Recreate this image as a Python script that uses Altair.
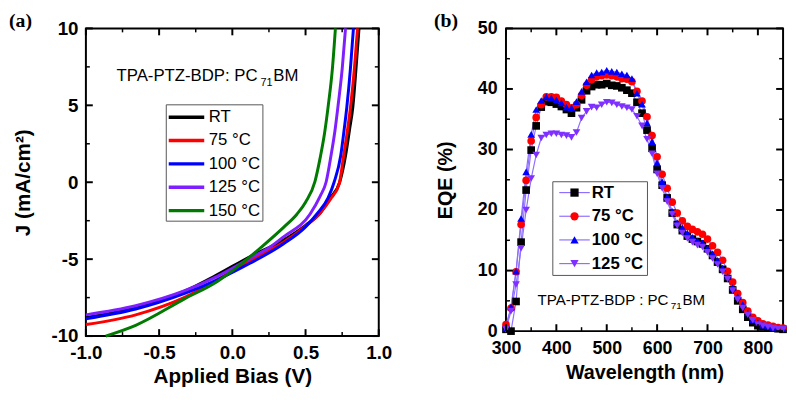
import altair as alt
import pandas as pd

FONT = "Liberation Sans"

# ---------------- Panel (a): J-V curves ----------------
series_a = ["RT", "75 °C", "100 °C", "125 °C", "150 °C"]
colors_a = ["#000000", "#ff0000", "#0000ff", "#7f1fff", "#007a00"]

v_rt = [-1.0, -0.66, -0.33, -0.12, 0.12, 0.35, 0.5, 0.6, 0.67, 0.733, 0.773, 0.8, 0.823, 0.845, 0.865]
j_rt = [-8.8, -8.15, -7.1, -6.1, -4.84, -3.75, -2.8, -2.0, -1.0, 0.0, 1.72, 3.4, 4.9, 7.45, 10.0]
v_75 = [-1.0, -0.66, -0.33, -0.06, 0.12, 0.35, 0.5, 0.6, 0.67, 0.73, 0.76, 0.785, 0.807, 0.834, 0.855]
j_75 = [-9.25, -8.62, -7.5, -6.1, -5.1, -3.9, -2.85, -2.0, -1.1, -0.1, 1.72, 3.3, 4.9, 7.45, 10.0]
v_100 = [-1.0, -0.66, -0.33, -0.1, 0.12, 0.35, 0.5, 0.576, 0.654, 0.695, 0.74, 0.762, 0.782, 0.807, 0.827]
j_100 = [-8.87, -8.24, -7.24, -6.33, -5.27, -4.0, -2.9, -2.08, -1.02, 0.0, 1.72, 3.3, 4.9, 7.45, 10.0]
v_125 = [-1.0, -0.66, -0.33, -0.1, 0.12, 0.26, 0.35, 0.53, 0.6, 0.64, 0.675, 0.7, 0.721, 0.751, 0.773]
j_125 = [-8.62, -8.03, -7.07, -6.1, -4.95, -4.2, -3.55, -2.08, -0.9, 0.0, 1.8, 3.3, 4.9, 7.45, 10.0]
v_150 = [-0.865, -0.66, -0.33, -0.1, 0.12, 0.194, 0.35, 0.441, 0.5, 0.564, 0.6, 0.63, 0.654, 0.684, 0.704]
j_150 = [-10.0, -9.3, -7.6, -6.43, -4.85, -4.25, -2.93, -2.08, -1.3, 0.04, 1.6, 3.2, 4.9, 7.45, 10.0]

xa_major = [-1.0, -0.5, 0.0, 0.5, 1.0]
xa_minor = [-0.75, -0.25, 0.25, 0.75]
ya_major = [-10, -5, 0, 5, 10]
ya_minor = [-7.5, -2.5, 2.5, 7.5]
ann_a = ["TPA-PTZ-BDP: PC", "71", "BM"]

# ---------------- Panel (b): EQE spectra ----------------
series_b = ["RT", "75 °C", "100 °C", "125 °C"]
colors_b = ["#000000", "#ff0000", "#0000ff", "#7f2fff"]
shapes_b = ["square", "circle", "triangle-up", "triangle-down"]
wavelength = [300, 310, 320, 330, 340, 350, 360, 370, 380, 390,
              400, 410, 420, 430, 440, 450, 460, 470, 480, 490,
              500, 510, 520, 530, 540, 550, 560, 570, 580, 590,
              600, 610, 620, 630, 640, 650, 660, 670, 680, 690,
              700, 710, 720, 730, 740, 750, 760, 770, 780, 790,
              800, 810, 820, 830, 840, 850]
eqe_rt = [0.3, 0.0, 4.9, 14.7, 23.3, 29.9, 33.9, 37.0, 37.9, 37.8,
          37.5, 37.1, 36.6, 36.0, 36.9, 38.2, 39.7, 40.4, 40.7, 40.7,
          40.9, 40.6, 40.5, 40.2, 39.8, 39.3, 37.8, 36.0, 33.2, 30.2,
          26.7, 24.1, 22.0, 19.5, 17.6, 16.6, 15.7, 15.2, 14.8, 14.4,
          13.6, 12.5, 11.4, 10.2, 8.7, 6.8, 5.0, 3.6, 2.3, 1.4,
          0.9, 0.7, 0.6, 0.5, 0.4, 0.3]
eqe_75 = [1.1, 3.8, 9.8, 17.6, 24.9, 31.4, 35.3, 37.4, 38.7, 38.7,
          38.6, 38.0, 37.4, 36.9, 37.4, 38.9, 40.6, 41.5, 42.0, 42.2,
          42.3, 42.2, 42.0, 41.7, 41.6, 41.2, 39.6, 38.0, 35.4, 32.3,
          28.8, 25.9, 23.6, 21.3, 19.5, 18.2, 17.3, 16.8, 16.4, 16.0,
          15.2, 14.1, 13.0, 11.7, 9.9, 8.1, 6.2, 4.7, 3.3, 2.3,
          1.7, 1.2, 1.0, 0.8, 0.6, 0.5]
eqe_100 = [0.5, 4.0, 9.9, 18.6, 26.3, 32.5, 36.6, 38.1, 38.7, 38.5,
           38.2, 37.7, 37.0, 36.9, 37.9, 39.6, 41.2, 42.3, 42.7, 42.8,
           43.1, 42.9, 42.8, 42.5, 42.3, 41.7, 39.3, 37.5, 34.4, 31.3,
           27.8, 24.7, 22.2, 19.8, 17.9, 17.1, 16.2, 15.5, 14.9, 14.6,
           13.7, 12.8, 11.7, 10.4, 9.0, 7.2, 5.7, 4.4, 3.0, 1.9,
           1.4, 1.0, 0.8, 0.6, 0.5, 0.4]
eqe_125 = [0.3, 3.3, 7.7, 13.7, 20.0, 25.2, 29.1, 31.9, 32.4, 32.6,
           32.6, 32.4, 32.3, 32.0, 32.8, 35.2, 36.3, 37.0, 36.9, 37.4,
           37.8, 37.7, 37.4, 37.1, 36.9, 36.6, 35.5, 33.9, 31.7, 29.3,
           26.0, 23.6, 21.4, 19.3, 17.4, 16.2, 15.3, 14.7, 14.2, 13.9,
           13.0, 12.0, 11.0, 9.8, 8.6, 6.7, 5.2, 3.8, 2.7, 1.8,
           1.1, 0.9, 0.7, 0.5, 0.4, 0.3]
xb_major = [300, 400, 500, 600, 700, 800]
xb_minor = [350, 450, 550, 650, 750]
yb_major = [0, 10, 20, 30, 40, 50]
yb_minor = [5, 15, 25, 35, 45]
ann_b = ["TPA-PTZ-BDP : PC", "71", "BM"]

LINE_B = "#8f6fff"
ZWSP = "\u200b"

# ---------------- build tables ----------------
rows = []
for name, vs, js in zip(series_a, [v_rt, v_75, v_100, v_125, v_150],
                        [j_rt, j_75, j_100, j_125, j_150]):
    for v, j in zip(vs, js):
        rows.append({"sample": name, "V": v, "J": j})
df_a = pd.DataFrame(rows)

rows = []
for name, vals in zip(series_b, [eqe_rt, eqe_75, eqe_100, eqe_125]):
    for w, e in zip(wavelength, vals):
        rows.append({"anneal": name, "lkey": name + ZWSP, "wl": w, "eqe": e})
df_b = pd.DataFrame(rows)


def tick_layers(xmaj, xmin, ymaj, ymin, xs, ys, W, H, xf, yf):
    out = []
    for vals, L, sw in ((xmaj, 7, 2), (xmin, 4, 1.5)):
        d = pd.DataFrame({xf: vals})
        out.append(alt.Chart(d).mark_rule(color="black", strokeWidth=sw).encode(
            x=alt.X(f"{xf}:Q", scale=xs), y=alt.value(H), y2=alt.value(H - L)))
        out.append(alt.Chart(d).mark_rule(color="black", strokeWidth=sw).encode(
            x=alt.X(f"{xf}:Q", scale=xs), y=alt.value(0), y2=alt.value(L)))
    for vals, L, sw in ((ymaj, 7, 2), (ymin, 4, 1.5)):
        d = pd.DataFrame({yf: vals})
        out.append(alt.Chart(d).mark_rule(color="black", strokeWidth=sw).encode(
            y=alt.Y(f"{yf}:Q", scale=ys), x=alt.value(0), x2=alt.value(L)))
        out.append(alt.Chart(d).mark_rule(color="black", strokeWidth=sw).encode(
            y=alt.Y(f"{yf}:Q", scale=ys), x=alt.value(W - L), x2=alt.value(W)))
    return out


def text_layer(txt, x, y, size, weight="normal", font=FONT, baseline="alphabetic"):
    return alt.Chart(pd.DataFrame({"t": [txt]})).mark_text(
        align="left", baseline=baseline, font=font, fontSize=size,
        fontWeight=weight, color="black").encode(text="t:N", x=alt.value(x), y=alt.value(y))


def axis(title, values, lsize, tsize, lpad, tpad, expr=None):
    kw = dict(title=title, values=values, ticks=False, domain=False, grid=False,
              labelFont=FONT, labelFontSize=lsize, labelFontWeight="bold",
              labelColor="black", labelPadding=lpad, labelFlush=False, labelOverlap=False,
              titleFont=FONT, titleFontSize=tsize, titleFontWeight="bold",
              titleColor="black", titlePadding=tpad)
    if expr:
        kw["labelExpr"] = expr
    return alt.Axis(**kw)


# ---------------- panel (a) ----------------
WA, HA = 297, 312
xa = alt.Scale(domain=[-1, 1], nice=False, zero=False)
ya = alt.Scale(domain=[-10, 10], nice=False, zero=False)
ex1 = "datum.value < 0 ? '-' + format(-datum.value, '.1f') : format(datum.value, '.1f')"
ex0 = "datum.value < 0 ? '-' + format(-datum.value, 'd') : format(datum.value, 'd')"

lines_a = alt.Chart(df_a).mark_line(strokeWidth=3, interpolate="monotone").encode(
    x=alt.X("V:Q", scale=xa, axis=axis("Applied Bias (V)", xa_major, 19, 21, 8, 3, ex1)),
    y=alt.Y("J:Q", scale=ya, axis=axis("J (mA/cm²)", ya_major, 19, 21, 8, 18, ex0)),
    color=alt.Color("sample:N", scale=alt.Scale(domain=series_a, range=colors_a),
                    legend=alt.Legend(orient="none", legendX=81, legendY=77, title=None,
                                      symbolType="M-2,0H2", symbolSize=324,
                                      symbolStrokeWidth=3.5, symbolOffset=8,
                                      labelOffset=11.5, labelFont=FONT, labelFontSize=17,
                                      labelFontWeight="normal",
                                      labelColor="black", padding=2, rowPadding=4.7,
                                      strokeColor="#555555")),
)

panel_a = alt.layer(
    lines_a,
    *tick_layers(xa_major, xa_minor, ya_major, ya_minor, xa, ya, WA, HA, "V", "J"),
    text_layer(ann_a[0], 31, 53, 17),
    text_layer(ann_a[1], 177, 58, 11),
    text_layer(ann_a[2], 190, 53, 17),
    text_layer("(a)", -78, -17, 20, "bold", "Liberation Serif", "top"),
).properties(width=WA, height=HA)

# ---------------- panel (b) ----------------
WB, HB = 281, 307
xb = alt.Scale(domain=[300, 850], nice=False, zero=False)
yb = alt.Scale(domain=[0, 50], nice=False, zero=False)


def legend_b(label_color, **extra):
    return alt.Legend(orient="none", legendX=47, legendY=155, title=None,
                      symbolSize=70, symbolOffset=11, labelOffset=9,
                      labelFont=FONT, labelFontSize=17, labelFontWeight="bold",
                      labelColor=label_color, padding=3, rowPadding=6, **extra)


lines_b = alt.Chart(df_b).mark_line(strokeWidth=1.2).encode(
    x=alt.X("wl:Q", scale=xb, axis=axis("Wavelength (nm)", xb_major, 18, 20, 9, 5)),
    y=alt.Y("eqe:Q", scale=yb, axis=axis("EQE (%)", yb_major, 18, 20, 9, 22)),
    stroke=alt.Stroke("lkey:N", scale=alt.Scale(domain=[s + ZWSP for s in series_b],
                                                  range=[LINE_B] * 4),
                      legend=legend_b("transparent", symbolType="M-3.7,0H3.7",
                                      symbolStrokeWidth=1.2)),
)

pts_legend = legend_b("black", symbolStrokeWidth=0, symbolOpacity=1, strokeColor="#555555")
points_b = alt.Chart(df_b).mark_point(filled=True, opacity=1, size=60).encode(
    x=alt.X("wl:Q", scale=xb),
    y=alt.Y("eqe:Q", scale=yb),
    color=alt.Color("anneal:N", scale=alt.Scale(domain=series_b, range=colors_b),
                    legend=pts_legend),
    shape=alt.Shape("anneal:N", scale=alt.Scale(domain=series_b, range=shapes_b),
                    legend=pts_legend),
)

panel_b = alt.layer(
    lines_b,
    points_b,
    *tick_layers(xb_major, xb_minor, yb_major, yb_minor, xb, yb, WB, HB, "wl", "eqe"),
    text_layer(ann_b[0], 32, 281, 15.3),
    text_layer(ann_b[1], 167, 285, 10),
    text_layer(ann_b[2], 179, 281, 15.3),
    text_layer("(b)", -73, -17, 20, "bold", "Liberation Serif", "top"),
).properties(width=WB, height=HB)

chart = alt.hconcat(panel_a, panel_b, spacing=40).resolve_scale(
    color="independent", stroke="independent", shape="independent"
).resolve_legend(
    color="independent", stroke="independent", shape="independent"
).properties(padding=0).configure_view(stroke="black", strokeWidth=2)

chart.save("out.html", embed_options={"renderer": "svg", "actions": False})
